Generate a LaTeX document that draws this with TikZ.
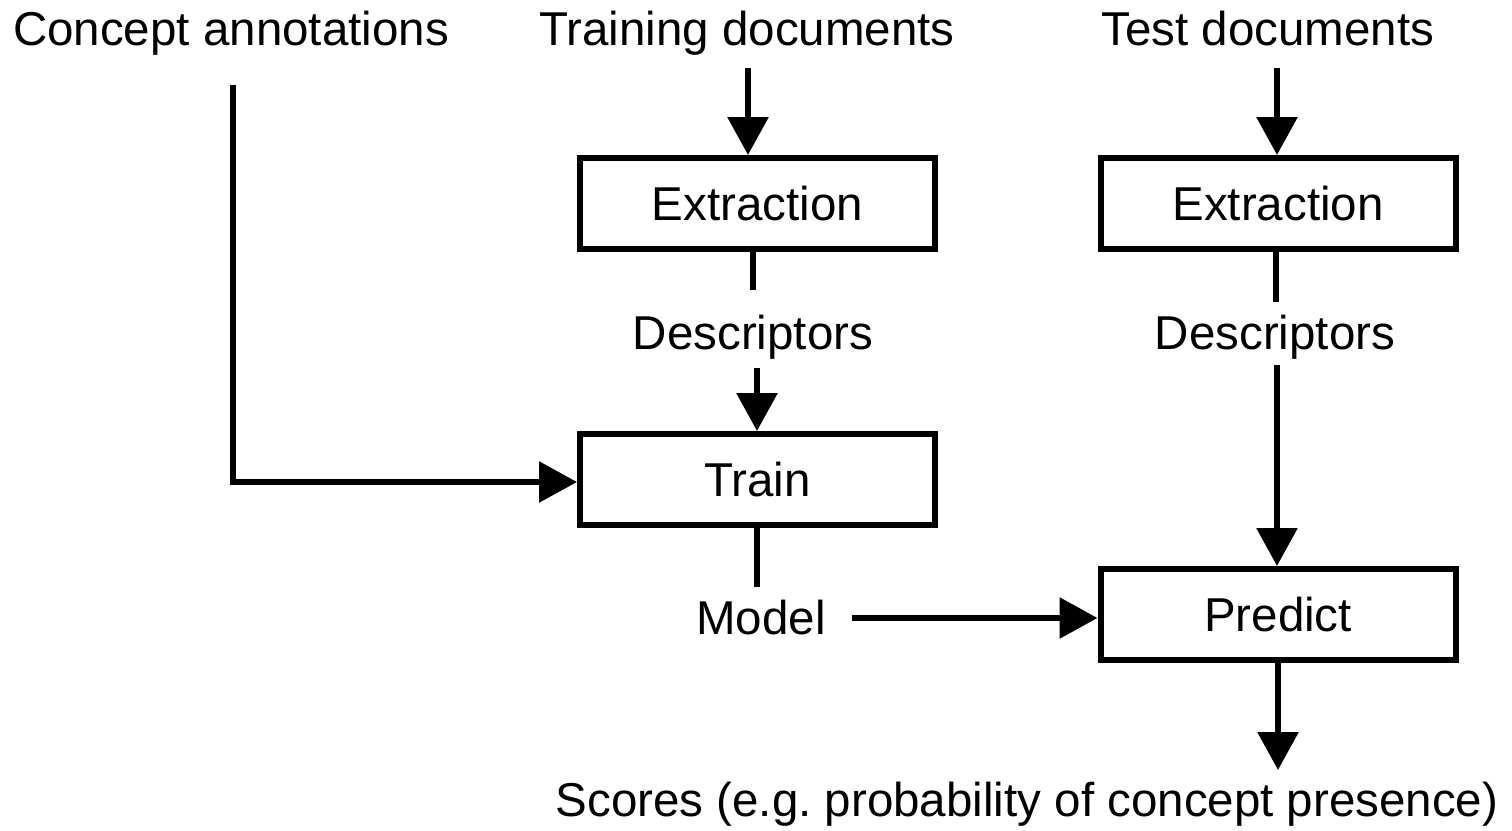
\documentclass[tikz,border=0pt]{standalone}
\usepackage{fontspec}
\setmainfont{Liberation Sans}
\usetikzlibrary{arrows.meta}
\begin{document}
\frenchspacing
\begin{tikzpicture}[x=1bp,y=-1bp,
  box/.style={draw,line width=6bp,minimum width=355bp,minimum height=91bp,inner sep=0pt},
  lbl/.style={inner sep=0pt,anchor=base},
  conn/.style={line width=6bp},
  arr/.style={line width=6bp,-{Triangle[length=38bp,width=40bp]}},
  every node/.style={font=\fontsize{47.5bp}{57bp}\selectfont}]
\useasboundingbox (0,0) rectangle (1512,830);
% top labels
\node[lbl] (ca) at (231,45) {Concept annotations};
\node[lbl] (td) at (747,45) {Training documents};
\node[lbl] (ted) at (1268,45) {Test documents};
% boxes
\node[box] (ex1) at (757.5,203.5) {Extraction};
\node[box] (ex2) at (1278,203.5) {Extraction};
\node[box] (tr) at (757.5,479.5) {Train};
\node[box] (pr) at (1278,614.5) {Predict};
% middle labels
\node[lbl] (d1) at (753,349) {Descriptors};
\node[lbl] (d2) at (1275,349) {Descriptors};
\node[lbl] (mo) at (761,634) {Model};
\node[lbl] (sc) at (1027,816) {Scores (e.g. probability of concept presence)};
% free ends
\coordinate (caS) at (233,85);
\coordinate (caC) at (233,482);
\coordinate (tdS) at (748,68);
\coordinate (tedS) at (1277,68);
\coordinate (d1E) at (753,290);
\coordinate (d1S) at (757,368);
\coordinate (d2E) at (1276,302);
\coordinate (d2S) at (1277,365);
\coordinate (moE) at (757,587);
\coordinate (moS) at (852,618);
\coordinate (scE) at (1278,770);
% connectors
\draw[arr] (tdS) -- (tdS |- ex1.north);
\draw[arr] (tedS) -- (tedS |- ex2.north);
\draw[conn] (d1E |- ex1.south) -- (d1E);
\draw[arr] (d1S) -- (d1S |- tr.north);
\draw[conn] (d2E |- ex2.south) -- (d2E);
\draw[arr] (d2S) -- (d2S |- pr.north);
\draw[arr] (caS) -- (caC) -- (caC -| tr.west);
\draw[conn] (moE |- tr.south) -- (moE);
\draw[arr] (moS) -- (moS -| pr.west);
\draw[arr] (pr.south) -- (scE);
\end{tikzpicture}
\end{document}
